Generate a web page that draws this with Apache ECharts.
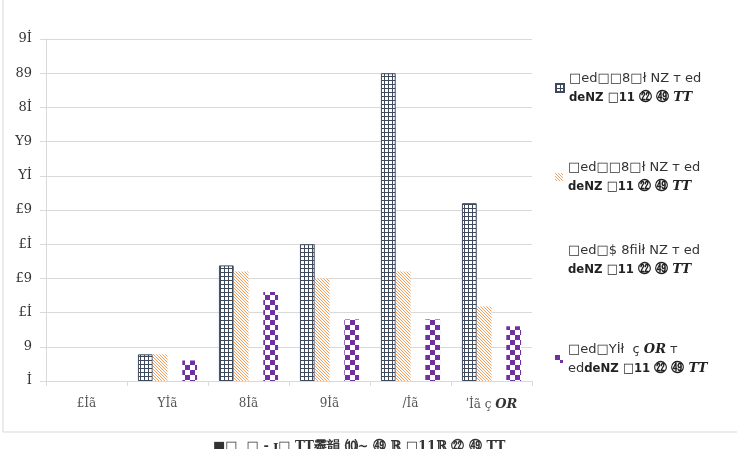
<!DOCTYPE html>
<html>
<head>
<meta charset="utf-8">
<script src="https://cdn.jsdelivr.net/npm/echarts@6/dist/echarts.min.js"></script>
<style>
  html, body { margin: 0; padding: 0; background: #fff; }
  #main { width: 737px; height: 449px; }
</style>
</head>
<body>
<div id="main"></div>
<script>
// categories (garbled text kept as seen)
var categories = ['£İã', 'Yİã', '8İã', '9İã', '/İã', 'ʹİã ç {b|OR}'];
// y tick labels, from 0 to 50 step 5
var yLabels = ['İ', '9', '£İ', '£9', '£İ', '£9', 'Yİ', 'Y9', '8İ', '89', '9İ'];

var seriesIds = ['s1', 's2', 's3', 's4'];
var legendTexts = [
    '□ed□□8□ł NZ т ed\n{d|deNZ □11 ㉒ ㊾} {b|TT}',
    '□ed□□8□ł NZ т ed\n{d|deNZ □11 ㉒ ㊾} {b|TT}',
    '□ed□$ 8ﬁİł NZ т ed\n{d|deNZ □11 ㉒ ㊾} {b|TT}',
    '□ed□Yİł  ç {b|OR} т\ned{d|deNZ □11 ㉒ ㊾} {b|TT}'
];

var values1 = [0, 3.9, 16.9, 20, 45, 26];
var values2 = [0, 3.9, 16, 15, 16, 10.9];
var values3 = [null, null, null, null, null, null];
var values4 = [0, 3, 13, 9, 9, 8];

// zero bars are not drawn at all (no outline)
function noZero(arr) {
    return arr.map(function (v) { return v === 0 ? null : v; });
}

// fill patterns
function makeGrid() {
    var c = document.createElement('canvas');
    c.width = 4; c.height = 4;
    var g = c.getContext('2d');
    g.fillStyle = '#ffffff'; g.fillRect(0, 0, 4, 4);
    g.fillStyle = '#3e4a5c';
    g.fillRect(0, 0, 4, 1);
    g.fillRect(0, 0, 1, 4);
    return c;
}
function makeHatch() {
    var c = document.createElement('canvas');
    c.width = 3; c.height = 3;
    var g = c.getContext('2d');
    g.fillStyle = '#ffffff'; g.fillRect(0, 0, 3, 3);
    g.fillStyle = '#f59d5a';
    for (var i = 0; i < 3; i++) {
        g.fillRect(i, i, 1, 1);
    }
    return c;
}
function makeChecker() {
    var c = document.createElement('canvas');
    c.width = 10; c.height = 10;
    var g = c.getContext('2d');
    g.fillStyle = '#ffffff'; g.fillRect(0, 0, 10, 10);
    g.fillStyle = '#7030a0';
    g.fillRect(0, 0, 5, 5);
    g.fillRect(5, 5, 5, 5);
    return c;
}

var patGrid = { image: makeGrid(), repeat: 'repeat' };
var patHatch = { image: makeHatch(), repeat: 'repeat' };
var patCheck = { image: makeChecker(), repeat: 'repeat' };

var richLegend = {
    b: { fontFamily: 'DejaVu Serif', fontWeight: 'bold', fontStyle: 'italic', fontSize: 13, color: '#222' },
    d: { fontFamily: 'DejaVu Sans Condensed', fontWeight: 'bold', fontSize: 13, color: '#222' }
};

function legendAt(idx, top, icon) {
    return {
        data: [{ name: seriesIds[idx], icon: icon }],
        left: 550,
        top: top,
        orient: 'vertical',
        itemWidth: 8,
        itemHeight: 8,
        itemGap: 0,
        selectedMode: false,
        formatter: function () { return legendTexts[idx]; },
        textStyle: {
            fontFamily: 'DejaVu Sans',
            fontSize: 13,
            color: '#333',
            lineHeight: 19,
            padding: [0, 0, 0, 0],
            rich: richLegend
        }
    };
}

var myChart = echarts.init(document.getElementById('main'));
var option = {
    backgroundColor: '#ffffff',
    animation: false,
    grid: { left: 46, right: 205, top: 39, bottom: 68 },
    legend: [
        legendAt(0, 64, 'rect'),
        legendAt(1, 153, 'rect'),
        legendAt(2, 236, 'none'),
        legendAt(3, 335, 'rect')
    ],
    xAxis: {
        type: 'category',
        data: categories,
        axisLine: { lineStyle: { color: '#d9d9d9', width: 1 } },
        axisTick: { show: true, alignWithLabel: false, length: 5, lineStyle: { color: '#d9d9d9' } },
        axisLabel: {
            interval: 0,
            fontFamily: 'DejaVu Serif',
            fontSize: 12,
            color: '#555',
            margin: 17,
            rich: { b: { fontFamily: 'DejaVu Serif', fontWeight: 'bold', fontStyle: 'italic', fontSize: 13, color: '#333' } }
        }
    },
    yAxis: {
        type: 'value',
        min: 0,
        max: 50,
        interval: 5,
        axisLine: { show: true, lineStyle: { color: '#d9d9d9' } },
        axisTick: { show: true, length: 6, lineStyle: { color: '#d9d9d9' } },
        splitLine: { lineStyle: { color: '#d9d9d9' } },
        axisLabel: {
            fontFamily: 'DejaVu Serif',
            fontSize: 13,
            color: '#333',
            margin: 14,
            formatter: function (v) { return yLabels[Math.round(v / 5)]; }
        }
    },
    series: [
        {
            name: 's1', type: 'bar', data: noZero(values1),
            barGap: '0%', barCategoryGap: '27%',
            itemStyle: { color: patGrid, borderColor: '#3e4a5c', borderWidth: 1 }
        },
        {
            name: 's2', type: 'bar', data: noZero(values2),
            itemStyle: { color: patHatch }
        },
        {
            name: 's3', type: 'bar', data: values3,
            itemStyle: { color: 'rgba(0,0,0,0)' }
        },
        {
            name: 's4', type: 'bar', data: noZero(values4),
            itemStyle: { color: patCheck }
        }
    ],
    graphic: [
        {
            type: 'rect',
            silent: true,
            shape: { x: 3, y: -5, width: 760, height: 437 },
            style: { fill: 'none', stroke: '#d9d9d9', lineWidth: 1 }
        },
        {
            type: 'text',
            left: 213,
            top: 440,
            silent: true,
            style: {
                text: '■□  □ - ɪ□ TT霽韻 ⑽~ ㊾ ℝ □11ℝ ㉒ ㊾ TT',
                font: 'bold 13px "DejaVu Serif"',
                fill: '#333'
            }
        }
    ]
};
myChart.setOption(option);
</script>
</body>
</html>
